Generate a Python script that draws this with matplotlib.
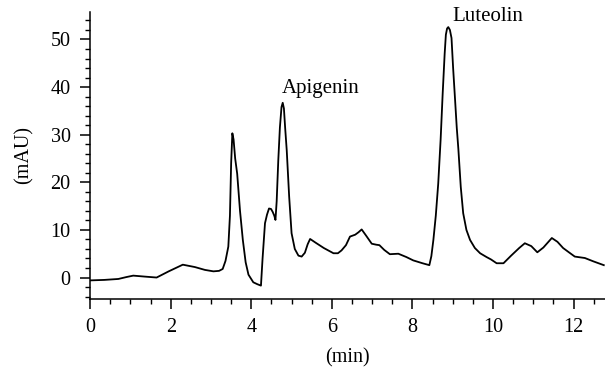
import matplotlib.pyplot as plt
from matplotlib.ticker import MultipleLocator

# retention time (min) and absorbance (mAU)
time_min = [
    0.00, 0.35, 0.70, 0.90, 1.07, 1.35, 1.65, 1.95, 2.30, 2.60, 2.85,
    3.06, 3.20, 3.29, 3.36, 3.43, 3.47, 3.50, 3.53, 3.56, 3.60, 3.65,
    3.72, 3.79, 3.86, 3.93, 4.05, 4.15, 4.24, 4.28, 4.34, 4.39, 4.44,
    4.49, 4.53, 4.57, 4.60, 4.63, 4.67, 4.71, 4.75, 4.78, 4.81, 4.84,
    4.88, 4.94, 5.00, 5.08, 5.17, 5.25, 5.33, 5.40, 5.46, 5.60, 5.80,
    6.04, 6.15, 6.24, 6.35, 6.45, 6.58, 6.66, 6.74, 6.85, 6.99, 7.10,
    7.18, 7.30, 7.44, 7.65, 7.85, 8.02, 8.25, 8.42, 8.47, 8.52, 8.58,
    8.64, 8.70, 8.75, 8.80, 8.83, 8.86, 8.89, 8.93, 8.97, 9.01, 9.06,
    9.10, 9.14, 9.20, 9.26, 9.34, 9.43, 9.55, 9.68, 9.84, 9.95, 10.09,
    10.26, 10.45, 10.65, 10.79, 10.95, 11.10, 11.25, 11.46, 11.60,
    11.74, 11.90, 12.03, 12.28, 12.49, 12.75,
]
absorbance = [
    -0.6, -0.5, -0.3, 0.1, 0.4, 0.2, 0.0, 1.3, 2.7, 2.2, 1.6,
    1.3, 1.4, 1.8, 3.5, 6.5, 13.0, 24.0, 30.3, 29.0, 25.0, 21.8,
    14.0, 7.9, 3.2, 0.6, -1.0, -1.4, -1.7, 4.0, 11.4, 13.2, 14.5,
    14.4, 13.8, 13.0, 12.1, 16.0, 24.6, 31.5, 35.8, 36.7, 35.5, 31.5,
    26.7, 17.0, 9.3, 6.0, 4.6, 4.4, 5.2, 7.0, 8.1, 7.3, 6.2,
    5.1, 5.1, 5.7, 6.8, 8.6, 9.0, 9.5, 10.1, 8.8, 7.1, 6.9,
    6.8, 5.8, 4.9, 5.0, 4.3, 3.6, 3.0, 2.6, 4.5, 7.9, 13.0,
    19.7, 29.0, 38.5, 47.0, 51.0, 52.3, 52.6, 52.0, 50.3, 44.0, 37.1,
    31.5, 27.0, 19.0, 13.5, 10.0, 7.9, 6.2, 5.1, 4.3, 3.8, 3.0,
    3.0, 4.6, 6.2, 7.2, 6.6, 5.3, 6.3, 8.3, 7.5,
    6.2, 5.2, 4.4, 4.1, 3.4, 2.6,
]

peak_names = ['Apigenin', 'Luteolin']
peak_label_x = [5.73, 9.86]
peak_label_y = [39.6, 54.8]

plt.rcParams['font.family'] = ['Liberation Serif', 'DejaVu Serif']

fig = plt.figure(figsize=(6.05, 3.7), dpi=100)
ax = fig.add_axes([0.149, 0.192, 0.851, 0.776])

ax.plot(time_min, absorbance, color='black', linewidth=1.3)

for name, x, y in zip(peak_names, peak_label_x, peak_label_y):
    ax.text(x, y, name, ha='center', va='center', fontsize=15)

ax.set_xlim(0, 12.78)
ax.set_ylim(-4.5, 55.8)
ax.xaxis.set_major_locator(MultipleLocator(2))
ax.xaxis.set_minor_locator(MultipleLocator(0.5))
ax.yaxis.set_major_locator(MultipleLocator(10))
ax.yaxis.set_minor_locator(MultipleLocator(2))
ax.tick_params(which='major', length=7, width=1.1, labelsize=14.5, pad=7)
ax.tick_params(which='minor', length=3.5, width=1)

for side in ['top', 'right']:
    ax.spines[side].set_visible(False)
for side in ['left', 'bottom']:
    ax.spines[side].set_linewidth(1.1)

ax.set_xlabel('(min)', fontsize=14.5, labelpad=8)
ax.set_ylabel('(mAU)', fontsize=14.5, labelpad=12)

fig.savefig('out.png', dpi=100)
